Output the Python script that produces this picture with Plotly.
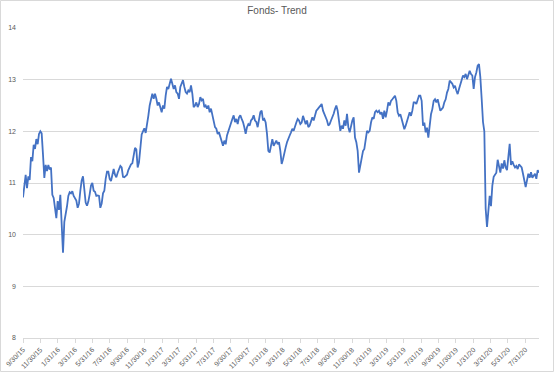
import pandas as pd
import plotly.graph_objects as go

# Fund values, in chronological order (roughly weekly)
values_2015_16 = [10.72, 10.95, 11.16, 10.9, 11.13, 11.06, 11.5, 11.42, 11.74, 11.66, 11.85, 11.75,
                  11.95, 12.0, 11.96, 11.55, 11.1, 11.35, 11.23, 11.35, 11.26, 11.3,
                  10.77, 10.71, 10.45, 10.32, 10.65, 10.48,
                  10.77, 10.13, 9.65, 10.25, 10.38, 10.55, 10.75, 10.82, 10.8, 10.84, 10.75, 10.7,
                  10.66, 10.52, 10.6, 10.85, 11.05, 11.13, 10.85, 10.62, 10.56, 10.64, 10.78, 10.95,
                  11.0, 10.85, 10.83, 10.75, 10.76, 10.75, 10.52, 10.6, 10.8, 10.85, 11.08, 11.22,
                  11.22, 11.08, 11.04, 11.2, 11.27, 11.16, 11.11, 11.2, 11.28, 11.33, 11.3, 11.12,
                  11.11, 11.13, 11.16, 11.25, 11.32, 11.36, 11.38, 11.5, 11.68, 11.65, 11.3, 11.4,
                  11.74, 11.94, 12.0, 12.06, 11.97, 12.1, 12.3]
values_2017 = [12.5, 12.66, 12.73, 12.63, 12.73, 12.63, 12.5, 12.56, 12.44, 12.37, 12.5, 12.44,
               12.69, 12.86, 12.82, 12.92, 13.02, 12.92, 12.82, 12.89, 12.76, 12.73, 12.63, 12.86,
               12.95, 12.99, 12.86, 12.76, 12.73, 12.79, 12.76, 12.89, 12.73, 12.47, 12.5, 12.56,
               12.47, 12.53, 12.66, 12.6, 12.63, 12.47, 12.5, 12.44, 12.5, 12.37, 12.44, 12.31,
               12.14, 12.08, 12.05, 11.95, 11.98, 11.88, 11.79, 11.72, 11.82, 11.75, 11.92, 12.01,
               12.08, 12.14, 12.24, 12.31, 12.18, 12.24, 12.14, 12.27, 12.31, 12.24, 12.18, 12.08,
               11.95, 12.08, 12.14, 12.11, 12.21, 12.24, 12.31, 12.21, 12.18, 12.08]
values_2018 = [12.21, 12.37, 12.4, 12.21, 12.24, 12.17, 11.95, 11.62, 11.59, 11.75, 11.85, 11.72,
               11.79, 11.82, 11.75, 11.79, 11.62, 11.37, 11.46, 11.62, 11.69, 11.79, 11.88, 11.92,
               11.98, 12.05, 12.01, 12.11, 12.17, 12.24, 12.21, 12.14, 12.17, 12.3, 12.21, 12.14,
               12.21, 12.08, 12.11, 12.21, 12.27, 12.21, 12.3, 12.4, 12.43, 12.47, 12.5, 12.53,
               12.4, 12.34, 12.27, 12.21, 12.11, 12.14, 12.21, 12.27, 12.34, 12.43, 12.5, 12.4,
               12.24, 12.01, 12.11, 12.05, 12.21, 12.11, 12.34, 12.08, 11.98, 12.11, 12.21, 12.27,
               11.88, 11.79, 11.62, 11.2, 11.33, 11.5, 11.62, 11.66, 11.88, 12.01]
values_2019 = [11.98, 12.01, 12.17, 12.27, 12.24, 12.37, 12.4, 12.37, 12.4, 12.33, 12.37, 12.24,
               12.4, 12.27, 12.4, 12.56, 12.5, 12.59, 12.62, 12.66, 12.69, 12.59, 12.37, 12.3,
               12.33, 12.24, 12.14, 12.04, 12.11, 12.2, 12.27, 12.37, 12.3, 12.4, 12.56, 12.56,
               12.53, 12.62, 12.69, 12.69, 12.59, 12.11, 12.17, 11.98, 12.07, 11.88, 12.11, 12.33,
               12.43, 12.59, 12.62, 12.56, 12.62, 12.5, 12.4, 12.43, 12.46, 12.56, 12.62, 12.75,
               12.82, 12.98, 12.95, 12.92, 12.85, 12.88, 12.79, 12.72, 12.82, 12.92, 13.01, 13.08,
               13.05, 13.11, 13.01, 13.11, 13.17, 13.11, 13.08, 12.82, 13.05, 13.14, 13.27]
values_2020 = [13.3, 13.05, 12.63, 12.18, 12.0, 10.5, 10.15, 10.5, 10.75, 10.55, 10.95, 11.12,
               11.15, 11.2, 11.45, 11.3, 11.2, 11.38, 11.28, 11.44, 11.3, 11.25, 11.45, 11.76,
               11.35, 11.42, 11.35, 11.3, 11.33, 11.27, 11.36, 11.33, 11.3, 11.18, 11.0, 10.92,
               11.05, 11.18, 11.1, 11.21, 11.1, 11.15, 11.18, 11.08, 11.25, 11.2]

start_date = "2015-09-30"
end_date = "2020-09-17"

tick_labels = ["9/30/15", "11/30/15", "1/31/16", "3/31/16", "5/31/16", "7/31/16", "9/30/16",
               "11/30/16", "1/31/17", "3/31/17", "5/31/17", "7/31/17", "9/30/17", "11/30/17",
               "1/31/18", "3/31/18", "5/31/18", "7/31/18", "9/30/18", "11/30/18", "1/31/19",
               "3/31/19", "5/31/19", "7/31/19", "9/30/19", "11/30/19", "1/31/20", "3/31/20",
               "5/31/20", "7/31/20"]

values = values_2015_16 + values_2017 + values_2018 + values_2019 + values_2020
dates = pd.date_range(start_date, end_date, periods=len(values))
tick_vals = [pd.to_datetime(t, format="%m/%d/%y") for t in tick_labels]

fig = go.Figure()
fig.add_trace(go.Scatter(x=dates, y=values, mode="lines",
                         line=dict(color="#4472C4", width=1.8), showlegend=False))

W, H = 554, 372
ml, mr, mt, mb = 23, 15, 28, 34

fig.update_layout(
    width=W, height=H,
    margin=dict(l=ml, r=mr, t=mt, b=mb),
    paper_bgcolor="white", plot_bgcolor="white",
    title=dict(text="Fonds- Trend", x=0.5, xanchor="center", y=1 - 10 / H, yanchor="middle",
               font=dict(family="Liberation Sans, Arial", size=10, color="#595959")),
    font=dict(family="Liberation Sans, Arial", color="#595959"),
)
fig.update_xaxes(
    type="date", range=[start_date, end_date],
    tickmode="array", tickvals=tick_vals, ticktext=tick_labels,
    tickangle=-45, tickfont=dict(size=7, color="#595959"),
    showgrid=False, showline=True, linecolor="#d9d9d9", linewidth=1,
    ticks="outside", ticklen=4, tickcolor="#d9d9d9", automargin=False,
    zeroline=False,
)
fig.update_yaxes(
    range=[8, 14], dtick=1, tick0=8,
    tickfont=dict(size=7, color="#595959"),
    showgrid=True, gridcolor="#d9d9d9", gridwidth=1,
    showline=False, zeroline=False, automargin=False, ticks="", ticklabelstandoff=6,
)
# chart-area border
pw = W - ml - mr
ph = H - mt - mb
fig.add_shape(type="rect", xref="paper", yref="paper",
              x0=(-ml + 0.5) / pw, x1=(pw + mr - 0.5) / pw,
              y0=(-mb + 0.5) / ph, y1=(ph + mt - 0.5) / ph,
              line=dict(color="#d9d9d9", width=1), layer="below")

fig.write_html("out.html", config={"displayModeBar": False},
               post_script="document.body.style.margin='0';")
